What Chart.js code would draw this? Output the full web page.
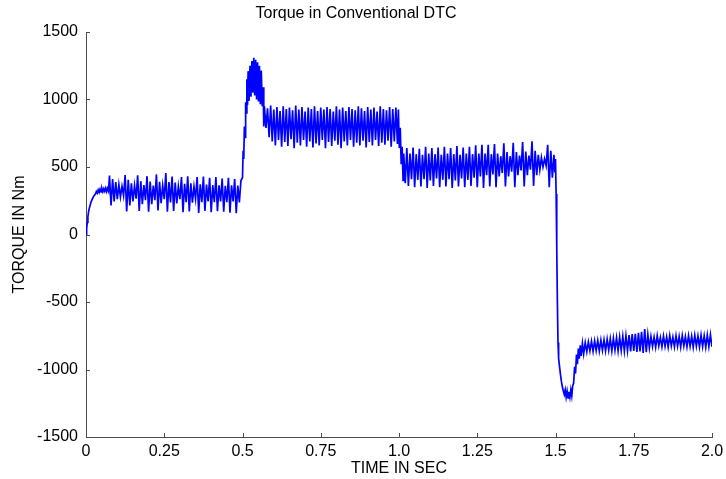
<!DOCTYPE html>
<html lang="en">
<head>
    <meta charset="UTF-8">
    <title>Torque in Conventional DTC</title>
    <script src="https://cdn.jsdelivr.net/npm/chart.js"></script>
    <style>
        body { margin: 0; background: #ffffff; }
        canvas { display: block; }
    </style>
</head>
<body>
    <canvas id="torqueChart" width="726" height="479"></canvas>

    <script>
        // ------------------------------------------------
        // Torque samples, as [time in ms, torque in Nm]
        // ------------------------------------------------
        const startupData = [
            [0, 0], [2, 40], [4, 90], [6, 130], [8, 165], [10, 190], [13, 215], [16, 240],
            [20, 262], [25, 285], [30, 300], [33, 318], [36, 306], [39, 330], [42, 312],
            [45, 336], [48, 316], [51, 340], [54, 318], [57, 340], [60, 320], [63, 344],
            [66, 318], [69, 342], [72, 322]
        ];

        const lowLoadData = [
            [75, 436], [80, 215], [85, 410], [90, 245], [95, 388], [100, 262], [105, 370], [110, 278], [115, 356], [120, 288],
            [125, 440], [130, 170], [135, 405], [140, 215], [145, 380], [150, 245], [155, 362], [160, 265],
            [165, 438], [170, 175], [175, 395], [180, 225], [185, 366], [190, 255],
            [195, 432], [200, 168], [205, 392], [210, 225], [215, 362], [220, 255],
            [225, 445], [230, 178], [235, 390], [240, 232], [245, 362], [250, 262],
            [255, 455], [260, 168], [265, 388], [270, 238],
            [275, 430], [280, 175], [285, 385], [290, 230], [295, 356], [300, 262],
            [305, 425], [310, 165], [315, 376], [320, 240],
            [325, 432], [330, 170], [335, 380], [340, 235], [345, 355], [350, 265],
            [355, 425], [360, 160], [365, 372], [370, 240],
            [375, 430], [380, 175], [385, 370], [390, 245],
            [395, 420], [400, 165], [405, 366], [410, 240],
            [415, 425], [420, 172], [425, 365], [430, 245],
            [435, 415], [440, 168], [445, 360], [450, 240],
            [455, 420], [460, 162], [465, 365], [470, 245],
            [475, 410], [480, 158], [485, 362], [490, 238],
            [495, 400]
        ];

        const stepUpData = [
            [500, 420], [502, 620], [504, 560], [506, 800], [508, 720], [510, 980], [512, 900],
            [514, 1150], [516, 960], [518, 1210], [521, 990], [524, 1250], [527, 1020],
            [530, 1285], [533, 1050], [536, 1310], [539, 1030], [542, 1295], [545, 1000],
            [548, 1275], [551, 985], [554, 1250], [557, 965], [560, 1215], [563, 950],
            [566, 1090], [568, 800]
        ];

        const highLoadData = [
            [570, 950], [575, 790], [580, 935], [585, 720], [590, 955], [595, 690],
            [600, 925], [605, 660], [610, 945], [615, 700], [620, 915], [625, 650],
            [630, 950], [635, 685], [640, 930], [645, 655], [650, 940], [655, 705],
            [660, 920], [665, 640], [670, 955], [675, 680], [680, 925], [685, 660],
            [690, 945], [695, 700], [700, 910], [705, 650], [710, 940], [715, 690],
            [720, 930], [725, 645], [730, 950], [735, 675], [740, 915], [745, 660],
            [750, 940], [755, 700], [760, 925], [765, 640], [770, 945], [775, 685],
            [780, 930], [785, 655], [790, 910], [795, 695], [800, 950], [805, 665],
            [810, 925], [815, 640], [820, 940], [825, 690], [830, 915], [835, 660],
            [840, 945], [845, 700], [850, 930], [855, 650], [860, 920], [865, 680],
            [870, 950], [875, 660], [880, 935], [885, 695], [890, 915], [895, 645],
            [900, 945], [905, 685], [910, 925], [915, 660], [920, 940], [925, 700],
            [930, 910], [935, 655], [940, 950], [945, 680], [950, 930], [955, 665],
            [960, 920], [965, 695], [970, 945], [975, 650], [980, 930], [985, 690],
            [990, 940], [995, 670]
        ];

        const midLoadData = [
            [998, 925], [1001, 640], [1004, 790], [1007, 520], [1010, 650], [1013, 400],
            [1015, 600], [1020, 380], [1025, 640], [1030, 360], [1035, 600], [1040, 410],
            [1045, 645], [1050, 350], [1055, 595], [1060, 405], [1065, 635], [1070, 355],
            [1075, 590], [1080, 410], [1085, 650], [1090, 345], [1095, 600], [1100, 400],
            [1105, 640], [1110, 360], [1115, 595], [1120, 415], [1125, 645], [1130, 350],
            [1135, 590], [1140, 405], [1145, 650], [1150, 355], [1155, 600], [1160, 410],
            [1165, 640], [1170, 345], [1175, 595], [1180, 400], [1185, 655], [1190, 355],
            [1195, 590], [1200, 415], [1205, 645], [1210, 350], [1215, 600], [1220, 405],
            [1225, 650], [1230, 360], [1235, 595], [1240, 420],
            [1245, 660], [1250, 350], [1255, 600], [1260, 430],
            [1265, 665], [1270, 345], [1275, 600], [1280, 440],
            [1285, 665], [1290, 355], [1295, 595], [1300, 445],
            [1305, 670], [1310, 350], [1315, 600], [1320, 430], [1325, 580], [1330, 455],
            [1335, 675], [1340, 355], [1345, 610], [1350, 430], [1355, 580], [1360, 465],
            [1365, 680], [1370, 350], [1375, 610], [1380, 440], [1385, 585], [1390, 475],
            [1395, 685], [1400, 355], [1405, 615], [1410, 440], [1415, 585], [1420, 480],
            [1425, 690], [1430, 360], [1435, 620], [1440, 440], [1445, 590], [1450, 480],
            [1455, 570], [1460, 500], [1465, 560], [1470, 510],
            [1475, 665], [1480, 350], [1485, 620], [1490, 420], [1495, 590], [1498, 460]
        ];

        const reversalData = [
            [1500, 560], [1502, 300], [1504, -100], [1506, -500], [1508, -800], [1510, -920],
            [1513, -980], [1516, -1040], [1519, -1090], [1522, -1130], [1525, -1160],
            [1528, -1185], [1531, -1150], [1534, -1205], [1537, -1160], [1540, -1210],
            [1543, -1165], [1546, -1205], [1549, -1150], [1552, -1195], [1555, -1120],
            [1558, -1100], [1561, -980], [1564, -1030], [1567, -890], [1570, -960],
            [1573, -845], [1576, -920], [1579, -820], [1582, -900], [1586, -805], [1590, -885]
        ];

        const negativeLoadData = [
            [1595, -800], [1600, -868], [1605, -795], [1610, -862], [1615, -790], [1620, -866],
            [1625, -788], [1630, -860], [1635, -785], [1640, -864], [1645, -782], [1650, -858],
            [1655, -780], [1660, -862], [1665, -775], [1670, -856], [1675, -772], [1680, -862],
            [1685, -768], [1690, -856], [1695, -765], [1700, -862], [1705, -760], [1710, -858],
            [1715, -755], [1720, -864], [1725, -750], [1730, -860], [1735, -745], [1740, -866],
            [1745, -738], [1750, -862], [1755, -735], [1760, -870], [1765, -728], [1770, -866],
            [1775, -720], [1780, -878], [1785, -700], [1790, -872], [1795, -740], [1800, -840],
            [1805, -755], [1810, -830], [1815, -760], [1820, -835], [1825, -750], [1830, -825],
            [1835, -762], [1840, -832], [1845, -752], [1850, -828], [1855, -758], [1860, -835],
            [1865, -748], [1870, -826], [1875, -760], [1880, -832], [1885, -750], [1890, -828],
            [1895, -755], [1900, -834], [1905, -748], [1910, -826], [1915, -757], [1920, -833],
            [1925, -750], [1930, -828], [1935, -754], [1940, -835], [1945, -746], [1950, -827],
            [1955, -752], [1960, -833], [1965, -745], [1970, -830], [1975, -750], [1980, -835],
            [1985, -744], [1990, -830], [1995, -742], [2000, -832]
        ];

        const timeTickLabels = ['0', '0.25', '0.5', '0.75', '1.0', '1.25', '1.5', '1.75', '2.0'];
        const torqueTickLabels = ['-1500', '-1000', '-500', '0', '500', '1000', '1500'];

        // ------------------------------------------------
        const fontFamily = '"Liberation Sans", Arial, Helvetica, sans-serif';
        const axisColor = '#4d4d4d';

        const torqueData = [].concat(startupData, lowLoadData, stepUpData, highLoadData,
            midLoadData, reversalData, negativeLoadData)
            .map(p => ({ x: p[0] / 1000, y: p[1] }));

        // MATLAB style ticks drawn inside the axes
        const insideTicks = {
            id: 'insideTicks',
            afterDraw(chart) {
                const { ctx, chartArea, scales } = chart;
                ctx.save();
                ctx.strokeStyle = axisColor;
                ctx.lineWidth = 1;
                ctx.beginPath();
                scales.x.ticks.forEach(t => {
                    const px = Math.round(scales.x.getPixelForValue(t.value)) + 0.5;
                    ctx.moveTo(px, chartArea.bottom);
                    ctx.lineTo(px, chartArea.bottom - 4);
                });
                scales.y.ticks.forEach(t => {
                    const py = Math.round(scales.y.getPixelForValue(t.value)) + 0.5;
                    ctx.moveTo(chartArea.left, py);
                    ctx.lineTo(chartArea.left + 4, py);
                });
                ctx.stroke();
                ctx.restore();
            }
        };

        const ctx = document.getElementById('torqueChart');
        const torqueChart = new Chart(ctx, {
            type: 'line',
            data: {
                datasets: [{
                    data: torqueData,
                    borderColor: '#0000ff',
                    borderWidth: 1.7,
                    pointRadius: 0,
                    fill: false,
                    tension: 0
                }]
            },
            options: {
                responsive: false,
                animation: false,
                parsing: false,
                layout: { padding: { top: 0, right: 14, bottom: 0, left: 0 } },
                plugins: {
                    legend: { display: false },
                    tooltip: { enabled: false },
                    title: {
                        display: true,
                        text: 'Torque in Conventional DTC',
                        color: '#000000',
                        font: { family: fontFamily, size: 16, weight: 'normal' },
                        padding: { top: 4, bottom: 8.8 }
                    }
                },
                scales: {
                    x: {
                        type: 'linear',
                        min: 0,
                        max: 2,
                        grid: { display: false, drawTicks: false },
                        border: { color: axisColor, width: 1 },
                        ticks: {
                            stepSize: 0.25,
                            padding: 5,
                            color: '#000000',
                            font: { family: fontFamily, size: 16 },
                            maxRotation: 0,
                            callback: (value, index) => timeTickLabels[index]
                        },
                        title: {
                            display: true,
                            text: 'TIME IN SEC',
                            color: '#000000',
                            font: { family: fontFamily, size: 16 },
                            padding: { top: 0, bottom: 1 }
                        },
                        afterFit: scale => {
                            scale.height = 42;
                            scale.paddingLeft = 0;
                            scale.paddingRight = 0;
                        }
                    },
                    y: {
                        min: -1500,
                        max: 1500,
                        grid: { display: false, drawTicks: false },
                        border: { color: axisColor, width: 1 },
                        ticks: {
                            stepSize: 500,
                            padding: 8,
                            color: '#000000',
                            font: { family: fontFamily, size: 16 },
                            callback: (value, index) => torqueTickLabels[index]
                        },
                        title: {
                            display: true,
                            text: 'TORQUE IN Nm',
                            color: '#000000',
                            font: { family: fontFamily, size: 16 },
                            padding: { top: 10, bottom: 0 }
                        },
                        afterFit: scale => {
                            scale.width = 86;
                            scale.paddingTop = 0;
                            scale.paddingBottom = 0;
                        }
                    }
                }
            },
            plugins: [insideTicks]
        });
    </script>
</body>
</html>
